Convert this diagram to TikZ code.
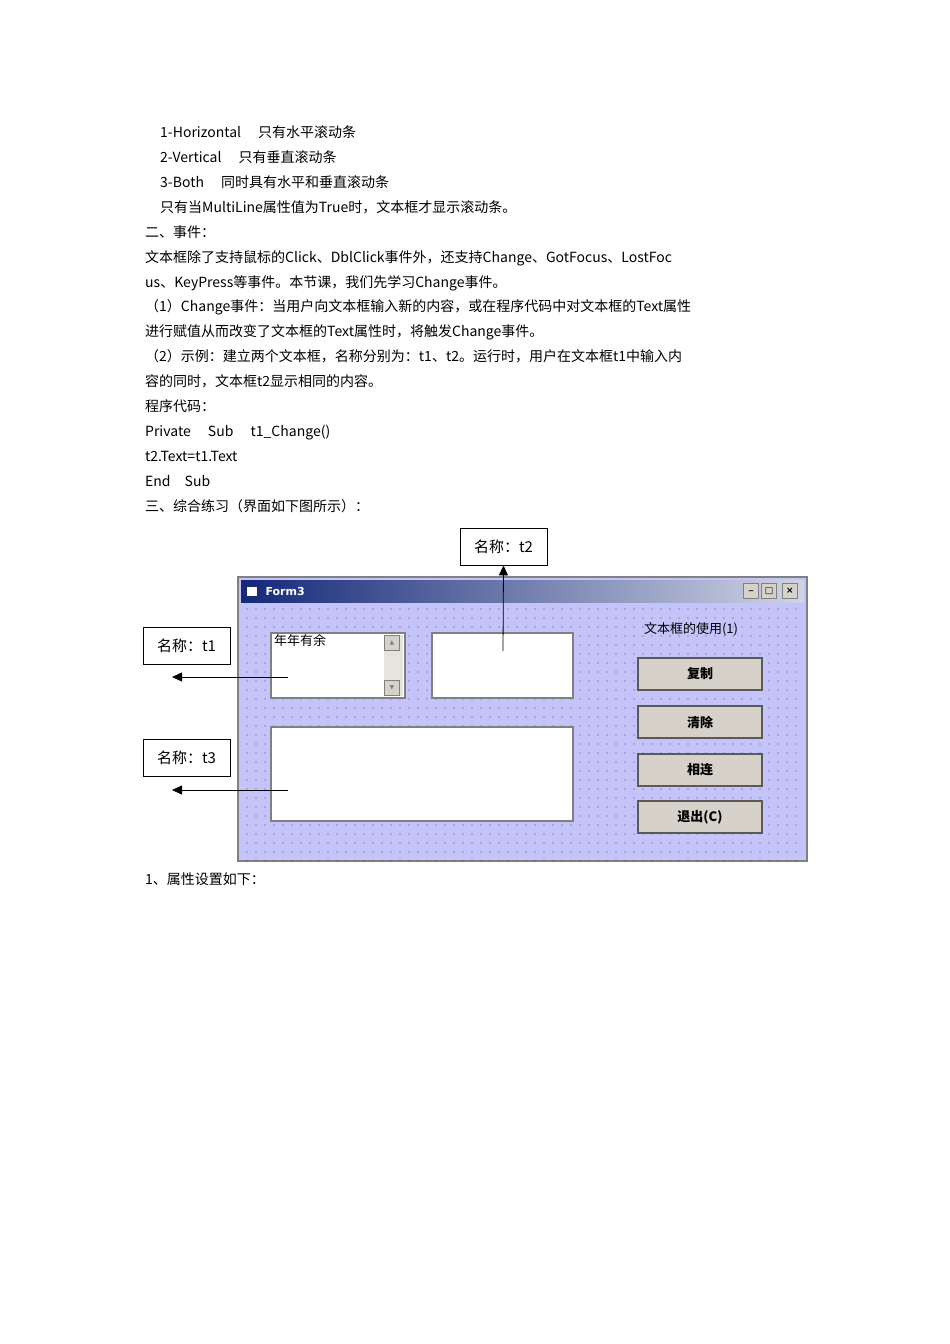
\documentclass[tikz,border=0pt]{standalone}
\usepackage{fontspec}
\setmainfont{Liberation Mono}
\newfontfamily\cjk{Noto Sans CJK SC}
\newfontfamily\dv{DejaVu Sans}
\usetikzlibrary{arrows.meta}
\definecolor{formbg}{RGB}{196,196,250}
\definecolor{btn}{RGB}{214,210,202}
\definecolor{ttl}{RGB}{20,40,120}
\tikzset{line/.style={anchor=base west,inner sep=0pt,font=\cjk\fontsize{14}{16}\selectfont},
 callout/.style={draw,thick,fill=white,minimum width=87pt,minimum height=37pt,font=\cjk\fontsize{15}{17}\selectfont},
 tbox/.style={draw=gray,line width=2pt,fill=white},
 button/.style={draw=gray!70!black,line width=1.5pt,fill=btn,font=\cjk\bfseries\fontsize{13}{15}\selectfont},
 smallbtn/.style={draw=gray,fill=btn,minimum width=15pt,minimum height=15pt,inner sep=0pt,font=\dv\bfseries\fontsize{9}{10}\selectfont},
 arr/.style={-{Triangle[length=10pt,width=9pt]},thick}}
\begin{document}
\begin{tikzpicture}[x=1pt,y=-1pt]
\useasboundingbox (0,0) rectangle (950,1344);
\fill[white] (0,0) rectangle (950,1344);
\node[line] at (160,137) {1-Horizontal\quad\ 只有水平滚动条};
\node[line] at (160,162) {2-Vertical\quad\ 只有垂直滚动条};
\node[line] at (160,187) {3-Both\quad\ 同时具有水平和垂直滚动条};
\node[line] at (160,212) {只有当MultiLine属性值为True时，文本框才显示滚动条。};
\node[line] at (145,237) {二、事件：};
\node[line] at (145,262) {文本框除了支持鼠标的Click、DblClick事件外，还支持Change、GotFocus、LostFoc};
\node[line] at (145,287) {us、KeyPress等事件。本节课，我们先学习Change事件。};
\node[line] at (145,311) {（1）Change事件：当用户向文本框输入新的内容，或在程序代码中对文本框的Text属性};
\node[line] at (145,336) {进行赋值从而改变了文本框的Text属性时，将触发Change事件。};
\node[line] at (145,361) {（2）示例：建立两个文本框，名称分别为：t1、t2。运行时，用户在文本框t1中输入内};
\node[line] at (145,386) {容的同时，文本框t2显示相同的内容。};
\node[line] at (145,411) {程序代码：};
\node[line] at (145,436) {Private\quad\ Sub\quad\ t1\_Change()};
\node[line] at (145,461) {t2.Text=t1.Text};
\node[line] at (145,486) {End\quad Sub};
\node[line] at (145,511) {三、综合练习（界面如下图所示）：};
\node[line] at (145,884) {1、属性设置如下：};
% form
\draw[gray,line width=1.5pt,fill=formbg] (238,577) rectangle (807,861);
\shade[left color=ttl,right color=ttl!20] (241,580) rectangle (804,602);
\node[anchor=west,text=white,font=\dv\bfseries\fontsize{11}{13}\selectfont] (title) at (262,591) {Form3};
\fill[white] (247,587) rectangle (257,596);
\node[smallbtn] at (751,591) {\_};
\node[smallbtn] at (769,591) {□};
\node[smallbtn] at (790,591) {×};
\foreach \y in {0,...,28} \foreach \x in {0,...,61}
  \fill[black!70] (247+\x*9,609+\y*9) circle (0.7pt);
\node[tbox,minimum width=134pt,minimum height=65pt,inner sep=0pt] (t1) at (338,665.5) {};
\fill[btn!60] (384,635) rectangle (403,696);
\node[smallbtn,font=\dv\fontsize{6}{7}\selectfont,text=gray] at (392,643) {▲};
\node[smallbtn,font=\dv\fontsize{6}{7}\selectfont,text=gray] at (392,688) {▼};
\node[anchor=north west,inner sep=0pt,font=\cjk\fontsize{13}{15}\selectfont] at (274,634) {年年有余};
\node[tbox,minimum width=141pt,minimum height=65pt,inner sep=0pt] (t2) at (502.5,665.5) {};
\node[tbox,minimum width=302pt,minimum height=94pt,inner sep=0pt] (t3) at (422,774) {};
\node[font=\cjk\fontsize{13}{15}\selectfont,inner sep=0pt] (lbl) at (691,629) {文本框的使用(1)};
\node[button,minimum width=124pt,minimum height=32pt] (b1) at (700,674) {复制};
\node[button,minimum width=124pt,minimum height=32pt] (b2) at (700,722) {清除};
\node[button,minimum width=124pt,minimum height=32pt] (b3) at (700,770) {相连};
\node[button,minimum width=124pt,minimum height=32pt] (b4) at (700,817) {退出(C)};
% callouts
\node[callout] (c2) at (503.5,546.5) {名称：t2};
\node[callout] (c1) at (186.5,645.5) {名称：t1};
\node[callout] (c3) at (186.5,757.5) {名称：t3};
\coordinate (p2) at (503,651);
\coordinate (p1) at (288,677);
\coordinate (q1) at (172,677);
\coordinate (p3) at (288,790);
\coordinate (q3) at (172,790);
\draw[arr] (p2) -- (c2.south);
\draw[arr] (p1) -- (q1);
\draw[arr] (p3) -- (q3);
\end{tikzpicture}
\end{document}
